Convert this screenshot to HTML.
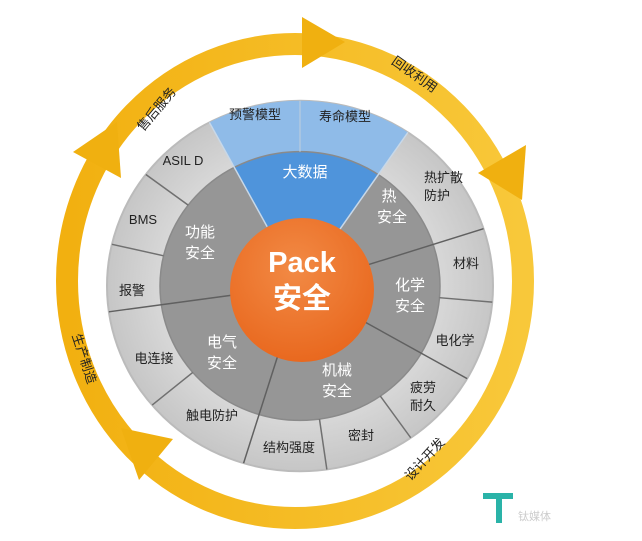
<!DOCTYPE html>
<html><head><meta charset="utf-8"><style>
html,body{margin:0;padding:0;background:#fff;}
svg{display:block;font-family:"Liberation Sans","Noto Sans CJK SC",sans-serif;}
</style></head><body>
<svg width="642" height="541" viewBox="0 0 642 541" xmlns="http://www.w3.org/2000/svg">
<defs>
<radialGradient id="og" cx="0.45" cy="0.35" r="0.7"><stop offset="0" stop-color="#f28a45"/><stop offset="1" stop-color="#e8661c"/></radialGradient>
<radialGradient id="gg" cx="0.5" cy="0.5" r="0.5"><stop offset="0.7" stop-color="#d9d9d9"/><stop offset="1" stop-color="#c6c6c6"/></radialGradient>
<linearGradient id="yg" x1="0" y1="0" x2="1" y2="0"><stop offset="0" stop-color="#f2b010"/><stop offset="1" stop-color="#f8c83a"/></linearGradient>
</defs>
<ellipse cx="295" cy="281" rx="228" ry="237" fill="none" stroke="url(#yg)" stroke-width="22"/>
<polygon points="345,42 302,17 302,68" fill="#f0b010"/>
<polygon points="522,200 478,173 526,145" fill="#f0b010"/>
<polygon points="73,152 117,122 121,178" fill="#f0b010"/>
<polygon points="121,428 173,439 139,480" fill="#f0b010"/>
<g font-size="13" fill="#222">
<text transform="translate(160,112) rotate(-50)" text-anchor="middle">售后服务</text>
<text transform="translate(412,78) rotate(35)" text-anchor="middle">回收利用</text>
<text transform="translate(80,360) rotate(72)" text-anchor="middle">生产制造</text>
<text transform="translate(428,462) rotate(-48)" text-anchor="middle">设计开发</text>
</g>
<g transform="translate(300,286) scale(1,0.96)">
<circle r="193" fill="url(#gg)" stroke="#bbb" stroke-width="2"/>
<circle r="140" fill="#969696"/>
<path d="M0,0 L-90.6,-170.4 A193,193 0 0,1 107.9,-160 Z" fill="#8fbbe8"/>
<path d="M0,0 L-65.7,-123.6 A140,140 0 0,1 78.3,-116.1 Z" fill="#4f94db"/>
<circle r="140" fill="none" stroke="#8a8a8a" stroke-width="1.5"/>
<g stroke="#707070" stroke-width="1.5">
<line x1="140" x2="193" transform="rotate(-90)" stroke="#b0c8e0"/>
<line x1="140" x2="193" transform="rotate(-143)"/>
<line x1="140" x2="193" transform="rotate(-167)"/>
<line x1="140" x2="193" transform="rotate(140)"/>
<line x1="140" x2="193" transform="rotate(82)"/>
<line x1="140" x2="193" transform="rotate(55)"/>
<line x1="140" x2="193" transform="rotate(5)"/>
<line x1="70" x2="193" transform="rotate(-118)" stroke="#c8d8e8"/>
<line x1="70" x2="193" transform="rotate(-56)" stroke="#c8d8e8"/>
<line x1="70" x2="193" transform="rotate(-18)" stroke="#606060"/>
<line x1="70" x2="193" transform="rotate(30)" stroke="#606060"/>
<line x1="70" x2="193" transform="rotate(107)" stroke="#606060"/>
<line x1="70" x2="193" transform="rotate(172)" stroke="#606060"/>
</g>
</g>
<circle cx="302" cy="290" r="72" fill="url(#og)"/>
<g fill="#fff" font-weight="bold" text-anchor="middle">
<text x="302" y="272" font-size="29">Pack</text>
<text x="302" y="308" font-size="29">安全</text>
</g>
<g fill="#fff" font-size="15" text-anchor="middle">
<text x="305" y="177">大数据</text>
<text x="389" y="201">热</text><text x="392" y="222">安全</text>
<text x="410" y="290">化学</text><text x="410" y="311">安全</text>
<text x="337" y="375">机械</text><text x="337" y="396">安全</text>
<text x="222" y="347">电气</text><text x="222" y="368">安全</text>
<text x="200" y="237">功能</text><text x="200" y="258">安全</text>
</g>
<g fill="#222" font-size="13" text-anchor="middle">
<text x="255" y="119">预警模型</text>
<text x="345" y="121">寿命模型</text>
<text x="183" y="165">ASIL D</text>
<text x="143" y="224">BMS</text>
<text x="132" y="295">报警</text>
<text x="154" y="363">电连接</text>
<text x="212" y="420">触电防护</text>
<text x="289" y="452">结构强度</text>
<text x="361" y="440">密封</text>
<text x="423" y="392">疲劳</text><text x="423" y="410">耐久</text>
<text x="455" y="345">电化学</text>
<text x="466" y="268">材料</text>
<text x="424" y="182" text-anchor="start">热扩散</text>
<text x="424" y="200" text-anchor="start">防护</text>
</g>
<g fill="#2ab3a8"><rect x="483" y="493" width="30" height="6"/><rect x="496" y="493" width="6" height="30"/></g>
<text x="518" y="520" font-size="11" fill="#ccc">钛媒体</text>
</svg>
</body></html>
